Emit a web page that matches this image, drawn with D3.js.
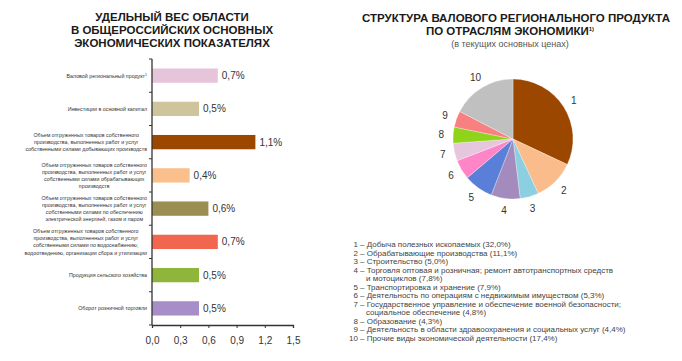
<!DOCTYPE html>
<html><head><meta charset="utf-8">
<script src="https://cdn.jsdelivr.net/npm/d3@7/dist/d3.min.js"></script>
<style>
body{margin:0;background:#fff;}
svg{display:block;font-family:"Liberation Sans",Arial,sans-serif;}
</style></head>
<body>
<svg id="c" width="682" height="361"></svg>
<script>
// ---- Left chart data ----
const barCategories = [
  "Валовой региональный продукт",
  "Инвестиции в основной капитал",
  "Объем отгруженных товаров собственного\nпроизводства, выполненных работ и услуг\nсобственными силами добывающих производств",
  "Объем отгруженных товаров собственного\nпроизводства, выполненных работ и услуг\nсобственными силами обрабатывающих\nпроизводств",
  "Объем отгруженных товаров собственного\nпроизводства, выполненных работ и услуг\nсобственными силами по обеспечению\nэлектрической энергией, газом и паром",
  "Объем отгруженных товаров собственного\nпроизводства, выполненных работ и услуг\nсобственными силами по водоснабжению;\nводоотведению, организации сбора и утилизации",
  "Продукция сельского хозяйства",
  "Оборот розничной торговли"
];
const barValues = [0.7, 0.5, 1.1, 0.4, 0.6, 0.7, 0.5, 0.5];
const barColors = ["#e6c5da", "#cec59c", "#9b4700", "#fbbf8c", "#9a8e50", "#f26650", "#8fb53b", "#a78ec9"];
const xTicks = [0, 0.3, 0.6, 0.9, 1.2, 1.5];
const leftTitle = ["УДЕЛЬНЫЙ ВЕС ОБЛАСТИ", "В ОБЩЕРОССИЙСКИХ ОСНОВНЫХ", "ЭКОНОМИЧЕСКИХ ПОКАЗАТЕЛЯХ"];

// ---- Right chart data ----
const pieNumbers = [1, 2, 3, 4, 5, 6, 7, 8, 9, 10];
const pieNames = [
  "Добыча полезных ископаемых",
  "Обрабатывающие производства",
  "Строительство",
  "Торговля оптовая и розничная; ремонт автотранспортных средств\nи мотоциклов",
  "Транспортировка и хранение",
  "Деятельность по операциям с недвижимым имуществом",
  "Государственное управление и обеспечение военной безопасности;\nсоциальное обеспечение",
  "Образование",
  "Деятельность в области здравоохранения и социальных услуг",
  "Прочие виды экономической деятельности"
];
const pieValues = [32.0, 11.1, 5.0, 7.8, 7.9, 5.3, 4.8, 4.3, 4.4, 17.4];
const pieColors = ["#9b4700", "#fbbc8c", "#8ccfe0", "#a38bbd", "#5a7fd8", "#ff85c8", "#e6c6dc", "#8fd41a", "#f88080", "#c0c0c0"];
const rightTitle = ["СТРУКТУРА ВАЛОВОГО РЕГИОНАЛЬНОГО ПРОДУКТА", "ПО ОТРАСЛЯМ ЭКОНОМИКИ"];
const rightSubtitle = "(в текущих основных ценах)";

const svg = d3.select("#c");
const comma = v => d3.format(".1f")(v).replace(".", ",");

// ===== Left title =====
const lt = svg.append("text").attr("text-anchor", "middle").attr("font-weight", "bold")
  .attr("font-size", 11.5).attr("fill", "#1a1a1a");
leftTitle.forEach((t, i) => lt.append("tspan").attr("x", 172).attr("y", 21 + i * 13).text(t));

// ===== Bar chart =====
const x = d3.scaleLinear().domain([0, 1.5]).range([152, 293]);
const y = d3.scaleBand().domain(barCategories.map((d, i) => i)).range([59, 325]).padding(0);
const bh = y.bandwidth() * 0.43;

const g = svg.append("g");
g.selectAll("rect.bar").data(barValues).join("rect").attr("class", "bar")
  .attr("x", x(0)).attr("y", (d, i) => y(i) + y.bandwidth() / 2 - bh / 2)
  .attr("width", d => x(d) - x(0)).attr("height", bh)
  .attr("fill", (d, i) => barColors[i]);

g.selectAll("text.val").data(barValues).join("text").attr("class", "val")
  .attr("x", d => x(d) + 4).attr("y", (d, i) => y(i) + y.bandwidth() / 2 + 3.5)
  .attr("font-size", 10).attr("fill", "#333").text(d => comma(d) + "%");

// category labels
barCategories.forEach((c, i) => {
  const lines = c.split("\n");
  const t = g.append("text").attr("font-size", 5.3).attr("fill", "#333").attr("text-anchor", "middle");
  const lh = 7.2;
  const y0 = y(i) + y.bandwidth() / 2 - (lines.length - 1) * lh / 2 + 2;
  lines.forEach((l, j) => {
    const ts = t.append("tspan").attr("y", y0 + j * lh).text(l);
    if (i === 0) ts.append("tspan").attr("font-size", 3.5).attr("dy", -2).text("1");
  });
  let w = 0;
  t.selectAll(":scope > tspan").each(function(){ w = Math.max(w, this.getComputedTextLength()); });
  t.selectAll(":scope > tspan").attr("x", 147 - w / 2);
});

// axes
const xAxis = d3.axisBottom(x).tickValues(xTicks).tickSize(3).tickFormat(d => comma(d));
const xa = g.append("g").attr("transform", "translate(0,325)").call(xAxis);
xa.select(".domain").attr("stroke", "#333").attr("stroke-width", 1.3);
xa.selectAll(".tick line").attr("stroke", "#333");
xa.selectAll(".tick text").attr("font-size", 10).attr("fill", "#333").attr("dy", "1.3em")
  .attr("font-family", "Liberation Sans, Arial, sans-serif");

const yTicks = d3.range(barCategories.length + 1).map(i => 59 + i * y.step());
const ya = g.append("g");
ya.append("line").attr("x1", x(0)).attr("x2", x(0)).attr("y1", 59).attr("y2", 325)
  .attr("stroke", "#333").attr("stroke-width", 1.3);
ya.selectAll("line.t").data(yTicks).join("line").attr("class", "t")
  .attr("x1", x(0) - 3).attr("x2", x(0)).attr("y1", d => d).attr("y2", d => d)
  .attr("stroke", "#333");

// ===== Right title =====
const rt = svg.append("text").attr("text-anchor", "middle").attr("font-weight", "bold")
  .attr("font-size", 11.5).attr("fill", "#1a1a1a");
rt.append("tspan").attr("x", 516).attr("y", 22).text(rightTitle[0]);
rt.append("tspan").attr("x", 510).attr("y", 35).text(rightTitle[1]);
rt.append("tspan").attr("font-size", 6).attr("dy", -4).text("1)");
svg.append("text").attr("x", 510).attr("y", 47).attr("text-anchor", "middle")
  .attr("font-size", 9).attr("fill", "#555").text(rightSubtitle);

// ===== Pie =====
const pie = d3.pie().sort(null).value(d => d)(pieValues);
const arc = d3.arc().innerRadius(0).outerRadius(60);
const labelArc = d3.arc().innerRadius(72).outerRadius(72);
const pg = svg.append("g").attr("transform", "translate(513,139)");
pg.selectAll("path").data(pie).join("path").attr("d", arc)
  .attr("fill", (d, i) => pieColors[i]).attr("stroke", "#fff").attr("stroke-width", 0.3);
pg.selectAll("text").data(pie).join("text")
  .attr("transform", d => `translate(${labelArc.centroid(d)})`)
  .attr("text-anchor", "middle").attr("dy", "0.35em")
  .attr("font-size", 10).attr("fill", "#333").text((d, i) => pieNumbers[i]);

// ===== Legend =====
const lg = svg.append("g").attr("font-size", 8).attr("fill", "#444");
let ly = 247;
const lstep = 8.5;
pieNames.forEach((n, i) => {
  const lines = n.split("\n");
  const num = pieNumbers[i];
  lg.append("text").attr("x", 358).attr("y", ly).attr("text-anchor", "end").text(num);
  lines.forEach((l, j) => {
    const last = j === lines.length - 1;
    const txt = (j === 0 ? "– " : "") + l + (last ? " (" + comma(pieValues[i]) + "%)" : "");
    lg.append("text").attr("x", j === 0 ? 360 : 366).attr("y", ly).text(txt);
    ly += lstep;
  });
});
</script>
</body></html>
